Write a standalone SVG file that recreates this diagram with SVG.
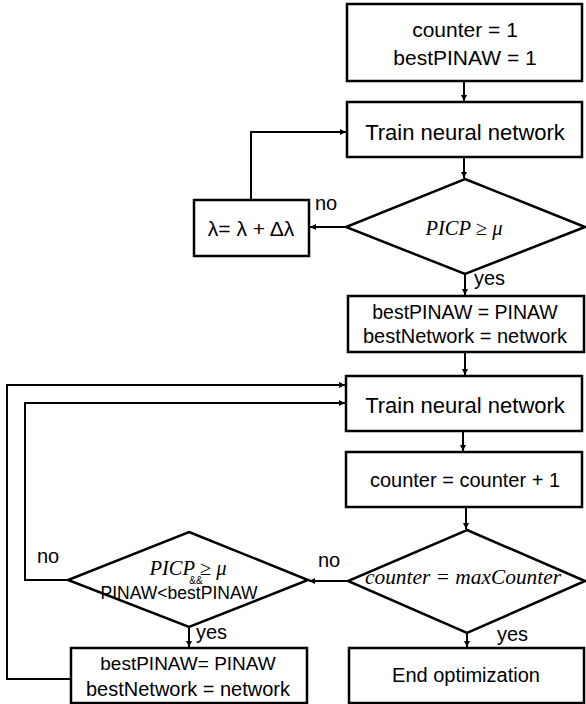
<svg xmlns="http://www.w3.org/2000/svg" width="586" height="704" viewBox="0 0 586 704">
<style>
.box{fill:#fff;stroke:#000;stroke-width:2.5}
.t{font-family:"Liberation Sans",Arial,sans-serif;fill:#000;text-anchor:middle}
.m{font-family:"Liberation Serif","Times New Roman",serif;font-style:italic;fill:#000;text-anchor:middle}
.lbl{font-family:"Liberation Sans",Arial,sans-serif;fill:#000;font-size:20px}
.c{fill:none;stroke:#000;stroke-width:2}
</style>
<defs>
<marker id="ah" viewBox="0 0 6 6" refX="6" refY="3" markerWidth="6" markerHeight="6" markerUnits="userSpaceOnUse" orient="auto">
<path d="M0,0 L6,3 L0,6 z" fill="#000"/>
</marker>
</defs>
<rect width="586" height="704" fill="#fff"/>
<g id="connectors">
<path class="c" d="M464,81 V101" marker-end="url(#ah)"/>
<path class="c" d="M464,157 V178" marker-end="url(#ah)"/>
<path class="c" d="M346,227 H310" marker-end="url(#ah)"/>
<path class="c" d="M251,200 V132 H346" marker-end="url(#ah)"/>
<path class="c" d="M465,274 V295" marker-end="url(#ah)"/>
<path class="c" d="M465,352 V375" marker-end="url(#ah)"/>
<path class="c" d="M463,431 V451" marker-end="url(#ah)"/>
<path class="c" d="M466,507 V529" marker-end="url(#ah)"/>
<path class="c" d="M348,581 H309" marker-end="url(#ah)"/>
<path class="c" d="M467,633 V647" marker-end="url(#ah)"/>
<path class="c" d="M189,627 V647" marker-end="url(#ah)"/>
<path class="c" d="M68,580 H25 V403 H345" marker-end="url(#ah)"/>
<path class="c" d="M71,679 H7 V385 H345" marker-end="url(#ah)"/>
</g>
<g id="n_init">
<rect class="box" x="347" y="4" width="235" height="77"/>
<text class="t" x="465" y="37" font-size="21">counter = 1</text>
<text class="t" x="465" y="65" font-size="21">bestPINAW = 1</text>
</g>
<g id="n_train1">
<rect class="box" x="347" y="102" width="235" height="55"/>
<text class="t" x="465" y="140" font-size="22">Train neural network</text>
</g>
<g id="n_dec1">
<polygon class="box" points="465,179 585,227 465,274 346,227"/>
<text class="m" x="464" y="235" font-size="20" textLength="77" lengthAdjust="spacingAndGlyphs">PICP ≥ μ</text>
</g>
<g id="n_lambda">
<rect class="box" x="194" y="200" width="115" height="56"/>
<text class="t" x="251" y="236" font-size="21">λ= λ + Δλ</text>
</g>
<g id="n_best1">
<rect class="box" x="348" y="296" width="236" height="56"/>
<text class="t" x="465" y="319" font-size="19.5">bestPINAW = PINAW</text>
<text class="t" x="465" y="343" font-size="20">bestNetwork = network</text>
</g>
<g id="n_train2">
<rect class="box" x="346" y="376" width="236" height="55"/>
<text class="t" x="465" y="413" font-size="22">Train neural network</text>
</g>
<g id="n_counter">
<rect class="box" x="346" y="452" width="236" height="55"/>
<text class="t" x="465" y="487" font-size="20">counter = counter + 1</text>
</g>
<g id="n_dec3">
<polygon class="box" points="467,530 585,581 467,633 348,581"/>
<text class="m" x="463" y="584" font-size="21" textLength="196" lengthAdjust="spacingAndGlyphs">counter = maxCounter</text>
</g>
<g id="n_dec2">
<polygon class="box" points="189,532 308,580 189,627 68,580"/>
<text class="m" x="188" y="575" font-size="20" textLength="77" lengthAdjust="spacingAndGlyphs">PICP ≥ μ</text>
<text class="t" x="196" y="584" font-size="10">&amp;&amp;</text>
<text class="t" x="179" y="599" font-size="18" textLength="157" lengthAdjust="spacingAndGlyphs">PINAW&lt;bestPINAW</text>
</g>
<g id="n_best2">
<rect class="box" x="71" y="648" width="236" height="55"/>
<text class="t" x="188" y="670" font-size="19">bestPINAW= PINAW</text>
<text class="t" x="188" y="696" font-size="20">bestNetwork = network</text>
</g>
<g id="n_end">
<rect class="box" x="349" y="648" width="235" height="55"/>
<text class="t" x="466" y="682" font-size="20">End optimization</text>
</g>
<g id="labels">
<text class="lbl" x="315" y="210">no</text>
<text class="lbl" x="474" y="285">yes</text>
<text class="lbl" x="37" y="563">no</text>
<text class="lbl" x="318" y="567">no</text>
<text class="lbl" x="196" y="639">yes</text>
<text class="lbl" x="497" y="641">yes</text>
</g>
</svg>
